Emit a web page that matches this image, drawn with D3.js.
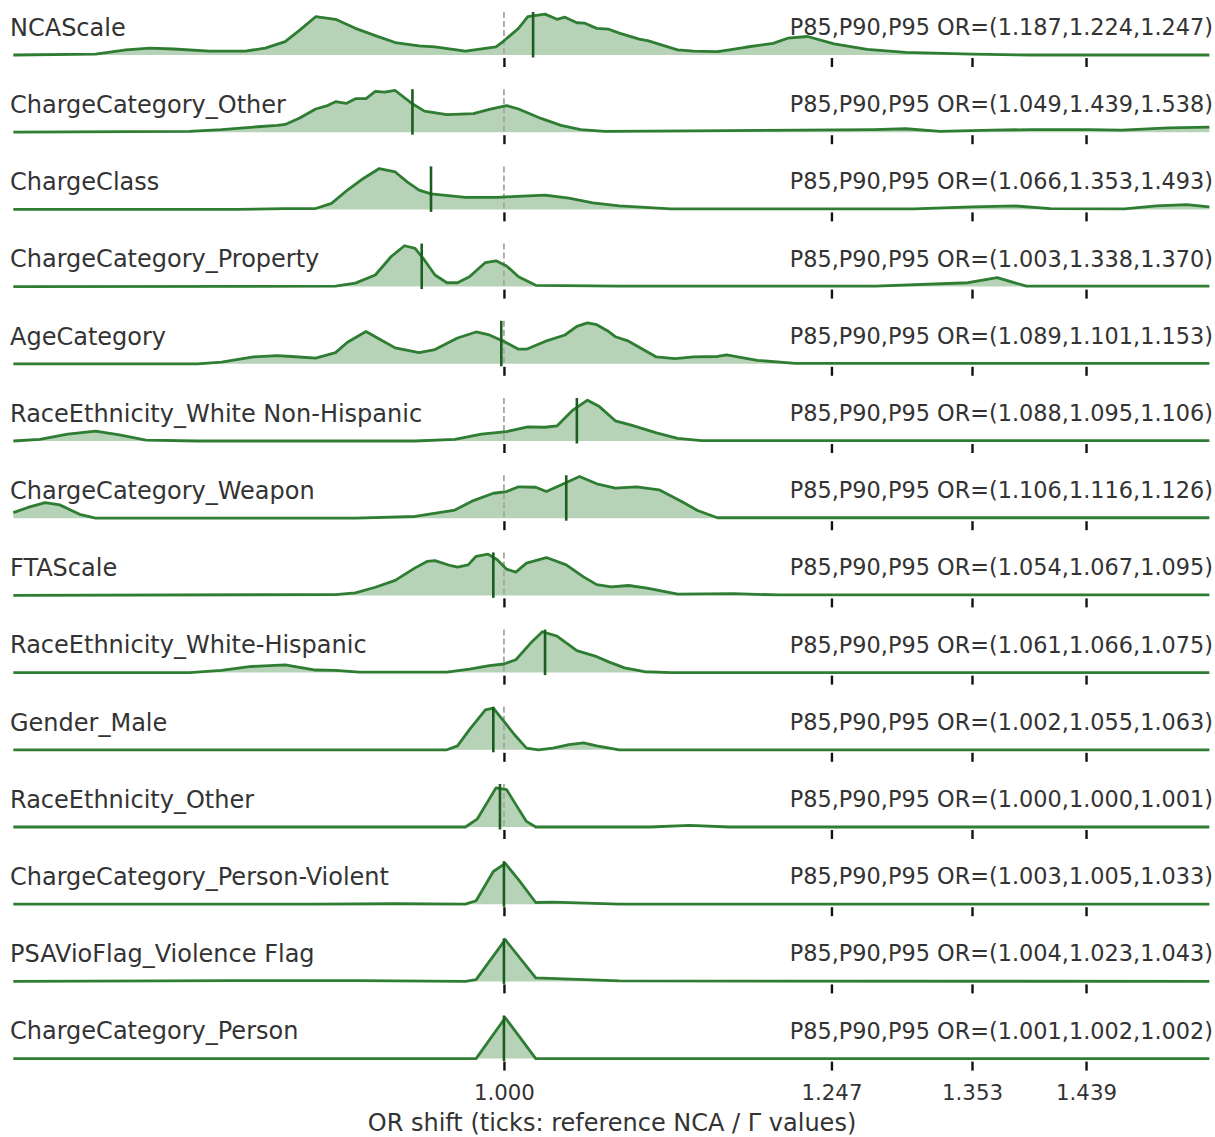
<!DOCTYPE html>
<html><head><meta charset="utf-8">
<script src="https://cdn.jsdelivr.net/npm/d3@7"></script>
<style>
body{margin:0;background:#fff}
text{font-family:"DejaVu Sans",sans-serif;fill:#333}
</style>
</head><body>
<svg id="chart" width="1215" height="1137"></svg>
<script>
const rowNames = ["NCAScale","ChargeCategory_Other","ChargeClass","ChargeCategory_Property","AgeCategory","RaceEthnicity_White Non-Hispanic","ChargeCategory_Weapon","FTAScale","RaceEthnicity_White-Hispanic","Gender_Male","RaceEthnicity_Other","ChargeCategory_Person-Violent","PSAVioFlag_Violence Flag","ChargeCategory_Person"];
const p85 = [1.187,1.049,1.066,1.003,1.089,1.088,1.106,1.054,1.061,1.002,1.000,1.003,1.004,1.001];
const p90 = [1.224,1.439,1.353,1.338,1.101,1.095,1.116,1.067,1.066,1.055,1.000,1.005,1.023,1.002];
const p95 = [1.247,1.538,1.493,1.370,1.153,1.106,1.126,1.095,1.075,1.063,1.001,1.033,1.043,1.002];
const markers = [1.022,0.931,0.945,0.938,0.998,1.055,1.047,0.992,1.031,0.992,0.997,1.000,1.000,1.000];
const tickValues = [1.000,1.247,1.353,1.439];
const xLabel = "OR shift (ticks: reference NCA / Γ values)";

// [OR value, relative density]
const densNCAScale = [[0.630,0],[0.692,0.02],[0.715,0.12],[0.733,0.16],[0.751,0.14],[0.778,0.09],[0.805,0.09],[0.820,0.16],[0.835,0.31],[0.846,0.58],[0.858,0.89],[0.873,0.83],[0.888,0.62],[0.903,0.45],[0.918,0.29],[0.936,0.21],[0.948,0.19],[0.971,0.09],[0.994,0.19],[1.000,0.33],[1.011,0.62],[1.018,0.89],[1.031,0.95],[1.040,0.83],[1.046,0.88],[1.055,0.75],[1.061,0.74],[1.070,0.62],[1.079,0.60],[1.087,0.51],[1.102,0.37],[1.109,0.33],[1.131,0.12],[1.143,0.09],[1.161,0.08],[1.170,0.12],[1.182,0.18],[1.203,0.27],[1.214,0.39],[1.229,0.43],[1.249,0.26],[1.274,0.13],[1.303,0.06],[1.353,0.02],[1.397,0],[1.532,0]];
const densOther = [[0.630,0],[0.763,0.02],[0.787,0.06],[0.811,0.12],[0.829,0.16],[0.835,0.18],[0.846,0.33],[0.858,0.54],[0.867,0.62],[0.873,0.71],[0.881,0.67],[0.888,0.78],[0.896,0.78],[0.903,0.95],[0.910,0.93],[0.918,0.97],[0.930,0.68],[0.940,0.49],[0.957,0.41],[0.977,0.43],[0.989,0.53],[1.002,0.62],[1.011,0.54],[1.028,0.32],[1.043,0.16],[1.058,0.06],[1.076,0.02],[1.140,0.03],[1.279,0.06],[1.303,0.08],[1.329,0.02],[1.368,0.05],[1.397,0.06],[1.442,0.06],[1.466,0.05],[1.501,0.10],[1.532,0.12]];
const densChargeClass = [[0.630,0],[0.799,0],[0.835,0.02],[0.858,0.02],[0.870,0.14],[0.882,0.45],[0.894,0.72],[0.906,0.95],[0.918,0.87],[0.927,0.64],[0.936,0.45],[0.945,0.36],[0.971,0.28],[0.995,0.28],[1.014,0.31],[1.031,0.33],[1.049,0.26],[1.067,0.15],[1.087,0.08],[1.126,0.01],[1.309,0.01],[1.353,0.06],[1.386,0.08],[1.412,0.02],[1.468,0.01],[1.492,0.08],[1.515,0.11],[1.532,0.06]];
const densProperty = [[0.630,0],[0.873,0.01],[0.888,0.08],[0.903,0.27],[0.915,0.70],[0.925,0.95],[0.933,0.89],[0.940,0.62],[0.948,0.27],[0.957,0.09],[0.965,0.09],[0.974,0.23],[0.986,0.56],[0.994,0.60],[1.002,0.48],[1.011,0.23],[1.024,0.03],[1.087,0.01],[1.280,0.01],[1.350,0.09],[1.372,0.21],[1.394,0.01],[1.532,0.01]];
const densAge = [[0.630,0],[0.769,0],[0.787,0.04],[0.811,0.16],[0.829,0.19],[0.840,0.17],[0.858,0.13],[0.873,0.26],[0.882,0.50],[0.896,0.75],[0.907,0.56],[0.918,0.37],[0.936,0.26],[0.948,0.33],[0.965,0.60],[0.979,0.74],[0.989,0.67],[1.000,0.52],[1.011,0.34],[1.017,0.34],[1.031,0.52],[1.046,0.67],[1.055,0.87],[1.063,0.95],[1.070,0.91],[1.079,0.75],[1.084,0.63],[1.093,0.54],[1.115,0.16],[1.129,0.12],[1.143,0.16],[1.161,0.17],[1.168,0.21],[1.191,0.08],[1.220,0.01],[1.532,0.01]];
const densWhiteNH = [[0.630,0],[0.650,0.04],[0.671,0.16],[0.692,0.23],[0.710,0.14],[0.730,0.02],[0.769,0],[0.933,0],[0.963,0.04],[0.983,0.16],[1.002,0.22],[1.018,0.33],[1.031,0.32],[1.040,0.35],[1.052,0.72],[1.063,0.95],[1.072,0.80],[1.084,0.47],[1.096,0.37],[1.115,0.19],[1.131,0.06],[1.149,0.01],[1.532,0.01]];
const densWeapon = [[0.630,0.13],[0.641,0.25],[0.654,0.36],[0.665,0.31],[0.680,0.09],[0.692,0],[0.888,0],[0.933,0.04],[0.963,0.19],[0.977,0.41],[0.992,0.58],[1.002,0.62],[1.011,0.73],[1.024,0.72],[1.032,0.62],[1.043,0.77],[1.057,0.97],[1.070,0.80],[1.084,0.70],[1.100,0.73],[1.117,0.66],[1.134,0.39],[1.146,0.18],[1.161,0.01],[1.532,0.01]];
const densFTA = [[0.630,0],[0.873,0.02],[0.888,0.06],[0.903,0.19],[0.918,0.35],[0.933,0.64],[0.942,0.79],[0.948,0.81],[0.960,0.69],[0.965,0.66],[0.973,0.71],[0.979,0.91],[0.988,0.96],[0.995,0.83],[1.002,0.61],[1.009,0.54],[1.017,0.75],[1.032,0.88],[1.047,0.71],[1.060,0.43],[1.070,0.25],[1.081,0.20],[1.094,0.23],[1.108,0.17],[1.131,0.03],[1.173,0.04],[1.208,0.01],[1.532,0.01]];
const densWhiteH = [[0.630,0],[0.763,0],[0.787,0.05],[0.808,0.14],[0.835,0.18],[0.858,0.06],[0.873,0.05],[0.891,0.01],[0.957,0.01],[0.974,0.08],[0.989,0.16],[1.000,0.20],[1.009,0.30],[1.020,0.68],[1.029,0.95],[1.040,0.85],[1.055,0.51],[1.070,0.37],[1.079,0.25],[1.091,0.11],[1.106,0.02],[1.126,0],[1.532,0]];
const densGender = [[0.630,0],[0.957,0],[0.965,0.09],[0.974,0.47],[0.986,0.93],[0.992,0.97],[1.000,0.66],[1.008,0.35],[1.017,0.04],[1.026,0],[1.037,0.04],[1.049,0.12],[1.060,0.16],[1.070,0.09],[1.087,0],[1.532,0]];
const densRaceOther = [[0.630,0],[0.971,0],[0.980,0.19],[0.994,0.91],[1.002,0.87],[1.009,0.52],[1.017,0.13],[1.024,0],[1.110,0],[1.140,0.04],[1.170,0],[1.532,0]];
const densViolent = [[0.630,0],[0.858,0],[0.918,0.01],[0.971,0],[0.979,0.08],[0.992,0.76],[1.001,0.95],[1.011,0.57],[1.024,0.04],[1.037,0.05],[1.087,0],[1.532,0]];
const densVioFlag = [[0.630,0],[0.799,0.02],[0.888,0.02],[0.971,0],[0.979,0.04],[1.001,0.97],[1.024,0.08],[1.087,0.01],[1.532,0]];
const densPerson = [[0.630,0],[0.979,0],[1.001,0.95],[1.024,0],[1.532,0]];

const densities = [densNCAScale,densOther,densChargeClass,densProperty,densAge,densWhiteNH,densWeapon,densFTA,densWhiteH,densGender,densRaceOther,densViolent,densVioFlag,densPerson];

const svg = d3.select("#chart");
const x = d3.scaleLinear().domain([0.629,1.534]).range([12,1212]);
const rowBase = d3.scaleLinear().domain([0, rowNames.length-1]).range([55, 55+13*77.2]);
const H = 43;
const lineColor = "#2e7d32", markColor = "#1b5e20";
const fmt = d3.format(".3f");

densities.forEach((dens, i) => {
  const base = rowBase(i);
  const y = d3.scaleLinear().domain([0,1]).range([base, base - H]);
  const g = svg.append("g");

  g.append("path").datum(dens)
    .attr("d", d3.area().x(d => x(d[0])).y0(y(0)).y1(d => y(d[1])))
    .attr("fill", lineColor).attr("fill-opacity", 0.35);

  g.append("line")
    .attr("x1", x(1)).attr("x2", x(1)).attr("y1", y(1)).attr("y2", y(0))
    .attr("stroke", "#a6a6a6").attr("stroke-width", 1.8).attr("stroke-dasharray", "6,3");

  g.append("path").datum(dens)
    .attr("d", d3.line().x(d => x(d[0])).y(d => y(d[1])))
    .attr("fill", "none").attr("stroke", lineColor).attr("stroke-width", 2.8)
    .attr("stroke-linejoin", "round");

  g.append("line")
    .attr("x1", x(markers[i])).attr("x2", x(markers[i]))
    .attr("y1", y(1)).attr("y2", base + 2.5)
    .attr("stroke", markColor).attr("stroke-width", 2.6);

  const last = i === rowNames.length - 1;
  const axis = d3.axisBottom(x).tickValues(tickValues).tickSize(9).tickSizeOuter(0)
    .tickPadding(14).tickFormat(last ? fmt : "");
  const ag = g.append("g").attr("transform", `translate(0,${base + 3})`).call(axis);
  ag.select(".domain").remove();
  ag.selectAll(".tick line").attr("stroke", "#111").attr("stroke-width", 2.4);
  ag.selectAll(".tick text").attr("fill", "#333").style("font-size", "21.3px")
    .style("font-family", "'DejaVu Sans', sans-serif");

  g.append("text").attr("x", 10).attr("y", base - 19.3)
    .style("font-size", "24px").text(rowNames[i]);

  g.append("text").attr("x", 1213).attr("y", base - 20).attr("text-anchor", "end")
    .style("font-size", "22.4px")
    .text(`P85,P90,P95 OR=(${fmt(p85[i])},${fmt(p90[i])},${fmt(p95[i])})`);
});

svg.append("text").attr("x", (x.range()[0] + x.range()[1]) / 2).attr("y", 1131)
  .attr("text-anchor", "middle").style("font-size", "24px").text(xLabel);
</script>
</body></html>
